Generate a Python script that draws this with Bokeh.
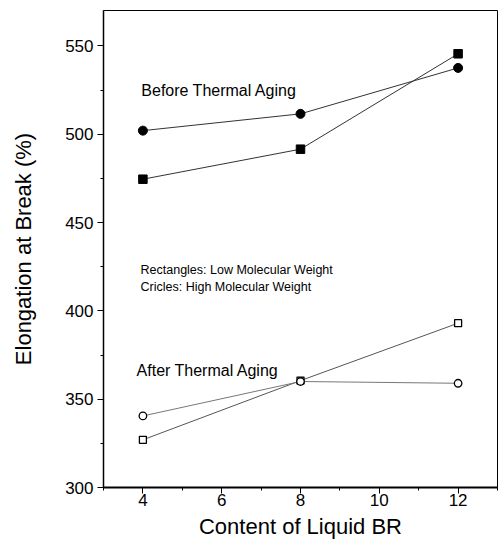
from bokeh.plotting import figure
from bokeh.models import Range1d, SingleIntervalTicker
from bokeh.core.properties import value
from bokeh.embed import file_html
from bokeh.resources import INLINE

content = [4, 8, 12]
before_low = [474.5, 491.5, 545.5]    # squares, filled
before_high = [502, 511.5, 537.5]     # circles, filled
after_low = [327, 360.5, 393]         # squares, open
after_high = [340.5, 360, 359]        # circles, open

x_ticks_interval = 2
y_ticks_interval = 50

FONT = "Liberation Sans"

p = figure(width=502, height=545, output_backend="svg", toolbar_location=None,
           x_range=Range1d(3, 13), y_range=Range1d(300, 570),
           min_border_left=103, min_border_right=5, min_border_top=10, min_border_bottom=58)
p.xgrid.visible = False
p.ygrid.visible = False
p.outline_line_color = "black"
p.outline_line_width = 1
p.background_fill_color = "white"
p.border_fill_color = "white"

p.xaxis.ticker = SingleIntervalTicker(interval=x_ticks_interval, num_minor_ticks=2)
p.yaxis.ticker = SingleIntervalTicker(interval=y_ticks_interval, num_minor_ticks=2)
for ax in (p.xaxis[0], p.yaxis[0]):
    ax.major_tick_out = 6
    ax.major_tick_in = 0
    ax.minor_tick_out = 3
    ax.minor_tick_in = 0
    ax.major_tick_line_color = "black"
    ax.minor_tick_line_color = "black"
    ax.axis_line_color = "black"
    ax.major_label_text_font = FONT
    ax.major_label_text_font_size = "17px"
    ax.major_label_text_color = "black"
    ax.axis_label_text_font = FONT
    ax.axis_label_text_font_size = "22px"
    ax.axis_label_text_font_style = "normal"
    ax.axis_label_text_color = "black"

p.xaxis.axis_line_width = 2
p.yaxis.axis_line_width = 1.5
p.xaxis.axis_label = "Content of Liquid BR"
p.yaxis.axis_label = "Elongation at Break (%)"
p.xaxis.major_label_standoff = 0
p.yaxis.major_label_standoff = 4
p.xaxis.axis_label_standoff = 5
p.yaxis.axis_label_standoff = 26

# before thermal aging
p.line(content, before_low, line_color="#333333", line_width=1)
p.line(content, before_high, line_color="#333333", line_width=1)
p.scatter(content, before_low, marker="square", size=8.5, fill_color="black", line_color="black")
p.scatter(content, before_high, marker="circle", size=9, fill_color="black", line_color="black")

# after thermal aging
p.line(content, after_low, line_color="#555555", line_width=1)
p.line(content, after_high, line_color="#777777", line_width=1)
p.scatter(content, after_low, marker="square", size=7, fill_color="white", line_color="black", line_width=1.3)
p.scatter(content, after_high, marker="circle", size=7.5, fill_color="white", line_color="black", line_width=1.3)

labels_big = ["Before Thermal Aging", "After Thermal Aging"]
labels_big_x = [3.96, 3.84]
labels_big_y = [525, 366]
p.text(labels_big_x, labels_big_y, text=labels_big, text_font=value(FONT),
       text_font_size="16px", text_color="black", text_baseline="alphabetic", text_align="left")

labels_small = ["Rectangles: Low Molecular Weight", "Cricles: High Molecular Weight"]
labels_small_x = [3.94, 3.94]
labels_small_y = [423, 413.3]
p.text(labels_small_x, labels_small_y, text=labels_small, text_font=value(FONT),
       text_font_size="12.5px", text_color="black", text_baseline="alphabetic", text_align="left")

open("out.html", "w").write(file_html(p, INLINE))
